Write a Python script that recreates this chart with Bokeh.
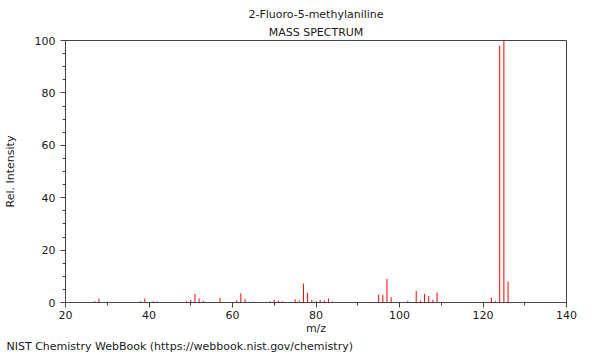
from bokeh.plotting import figure
from bokeh.models import ColumnDataSource, Title, SingleIntervalTicker, Range1d
from bokeh.embed import file_html
from bokeh.resources import INLINE

compound = "2-Fluoro-5-methylaniline"
subtitle = "MASS SPECTRUM"
footer = "NIST Chemistry WebBook (https://webbook.nist.gov/chemistry)"

mz = [27, 28, 30, 38, 39, 41, 42, 49, 50, 51, 52, 53, 57, 61, 62, 63, 64, 65,
      69, 70, 71, 72, 74, 75, 76, 77, 78, 79, 80, 81, 82, 83, 84,
      95, 96, 97, 98, 102, 104, 105, 106, 107, 108, 109,
      122, 123, 124, 125, 126, 130]
intensity = [0.5, 1.5, 0.3, 0.5, 1.5, 0.5, 0.4, 0.5, 1.0, 3.3, 1.6, 0.7, 1.8, 0.8, 3.5, 1.3, 0.3, 0.3,
             0.5, 1.0, 0.7, 0.5, 0.3, 1.2, 0.8, 7.2, 3.7, 1.0, 0.5, 1.0, 0.7, 1.5, 0.4,
             3.0, 2.8, 9.0, 2.0, 0.7, 4.4, 0.8, 3.3, 2.5, 1.0, 3.8,
             1.9, 0.5, 98.0, 100.0, 8.0, 0.3]
zeros = [0] * len(mz)

src = ColumnDataSource(dict(mz=mz, inten=intensity, base=zeros))

FONT = "DejaVu Sans"
FS = "11px"
TXT = "#1a1a1a"

p = figure(width=592, height=352, output_backend="svg", toolbar_location=None,
           x_range=Range1d(20, 140), y_range=Range1d(0, 100),
           title=compound,
           min_border_left=62, min_border_right=26, min_border_top=40, min_border_bottom=48)

p.segment(x0="mz", y0="base", x1="mz", y1="inten", source=src,
          line_color="#ff0000", line_width=1)

p.title.text_font = FONT
p.title.text_font_size = FS
p.title.text_font_style = "normal"
p.title.text_color = TXT
p.title.align = "center"
p.title.standoff = 3

t1 = Title(text=subtitle, align="center", text_font=FONT, text_font_size=FS,
           text_font_style="normal", text_color=TXT, standoff=3)
p.add_layout(t1, "above")

p.xgrid.visible = False
p.ygrid.visible = False
p.outline_line_color = "#444444"
p.outline_line_width = 1

p.xaxis.ticker = SingleIntervalTicker(interval=20, num_minor_ticks=2)
p.yaxis.ticker = SingleIntervalTicker(interval=20, num_minor_ticks=4)

for ax in (p.xaxis[0], p.yaxis[0]):
    ax.axis_line_color = "#444444"
    ax.major_tick_line_color = "#444444"
    ax.minor_tick_line_color = "#444444"
    ax.major_tick_in = 0
    ax.major_tick_out = 5
    ax.minor_tick_in = 0
    ax.minor_tick_out = 3
    ax.major_label_text_font = FONT
    ax.major_label_text_font_size = FS
    ax.major_label_text_color = TXT
    ax.axis_label_text_font = FONT
    ax.axis_label_text_font_size = FS
    ax.axis_label_text_font_style = "normal"
    ax.axis_label_text_color = TXT

p.xaxis.axis_label = "m/z"
p.yaxis.axis_label = "Rel. Intensity"
p.xaxis.major_label_standoff = 3
p.xaxis.axis_label_standoff = 0
p.yaxis.major_label_standoff = 5
p.yaxis.axis_label_standoff = 15

foot = Title(text=footer, align="left", text_font=FONT, text_font_size=FS,
             text_font_style="normal", text_color=TXT, offset=-59, standoff=0)
p.add_layout(foot, "below")

open("out.html", "w").write(file_html(p, INLINE))
